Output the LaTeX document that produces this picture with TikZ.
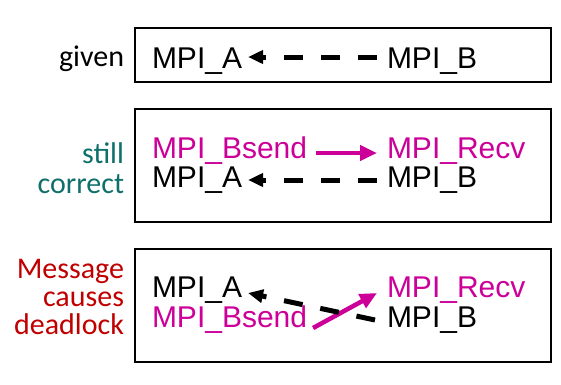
\documentclass[tikz,border=0pt]{standalone}
\usepackage{fontspec}
\setmainfont{Liberation Sans}
\newfontfamily\labelfont{Carlito}
\usetikzlibrary{arrows.meta}
\definecolor{callmag}{HTML}{CC0099}
\definecolor{okteal}{HTML}{0F6F6B}
\definecolor{badred}{HTML}{C00000}
\tikzset{
  frame/.style={draw=black, line width=1.8bp},
  call/.style={inner sep=0pt, outer sep=0pt, anchor=base west,
    font=\fontsize{30bp}{36bp}\selectfont},
  sidenote/.style={inner sep=0pt, outer sep=0pt, anchor=base east, align=right,
    font=\labelfont\fontsize{30bp}{29bp}\selectfont},
  dep/.style={draw=black, line width=5bp, dash pattern=on 19bp off 18bp,
    -{Triangle[length=15bp,width=13bp]}},
  msg/.style={draw=callmag, line width=4.5bp,
    -{Triangle[length=17bp,width=15bp]}}
}
\begin{document}
\begin{tikzpicture}[x=1bp, y=-1bp]
\useasboundingbox (0,0) rectangle (561,384);

% frames
\draw[frame] (135,28) rectangle (551,82);
\draw[frame] (135,109) rectangle (551,222);
\draw[frame] (135,249) rectangle (551,362);

% side notes (anchored at the baseline of their last line)
\node[sidenote] (n1) at (124,66) {given};
\node[sidenote, text=okteal, font=\labelfont\fontsize{30bp}{30bp}\selectfont] (n2) at (124,193) {still\\correct};
\node[sidenote, text=badred, font=\labelfont\fontsize{30bp}{28bp}\selectfont] (n3) at (124,334) {Message\\causes\\deadlock};

% first case
\node[call] (a1) at (152,68) {MPI\_A};
\node[call] (b1) at (387,68) {MPI\_B};
\draw[dep] ([xshift=-10bp,yshift=11bp]b1.base west) -- ([xshift=6bp,yshift=11bp]a1.base east);

% second case
\node[call, text=callmag] (s2) at (152,158) {MPI\_Bsend};
\node[call, text=callmag] (r2) at (387,158) {MPI\_Recv};
\node[call] (a2) at (152,187) {MPI\_A};
\node[call] (b2) at (387,187) {MPI\_B};
\draw[msg] ([xshift=9bp,yshift=5bp]s2.base east) -- ([xshift=-10bp,yshift=5bp]r2.base west);
\draw[dep] ([xshift=-10bp,yshift=7bp]b2.base west) -- ([xshift=6bp,yshift=7bp]a2.base east);

% third case
\node[call] (a3) at (152,297) {MPI\_A};
\node[call, text=callmag] (r3) at (387,297) {MPI\_Recv};
\node[call, text=callmag] (s3) at (152,327) {MPI\_Bsend};
\node[call] (b3) at (387,327) {MPI\_B};
\draw[msg] ([xshift=6bp,yshift=-1bp]s3.base east) -- ([xshift=-10bp,yshift=4bp]r3.base west);
\draw[dep] ([xshift=-12bp,yshift=7bp]b3.base west) -- ([xshift=6bp,yshift=4bp]a3.base east);
\end{tikzpicture}
\end{document}
